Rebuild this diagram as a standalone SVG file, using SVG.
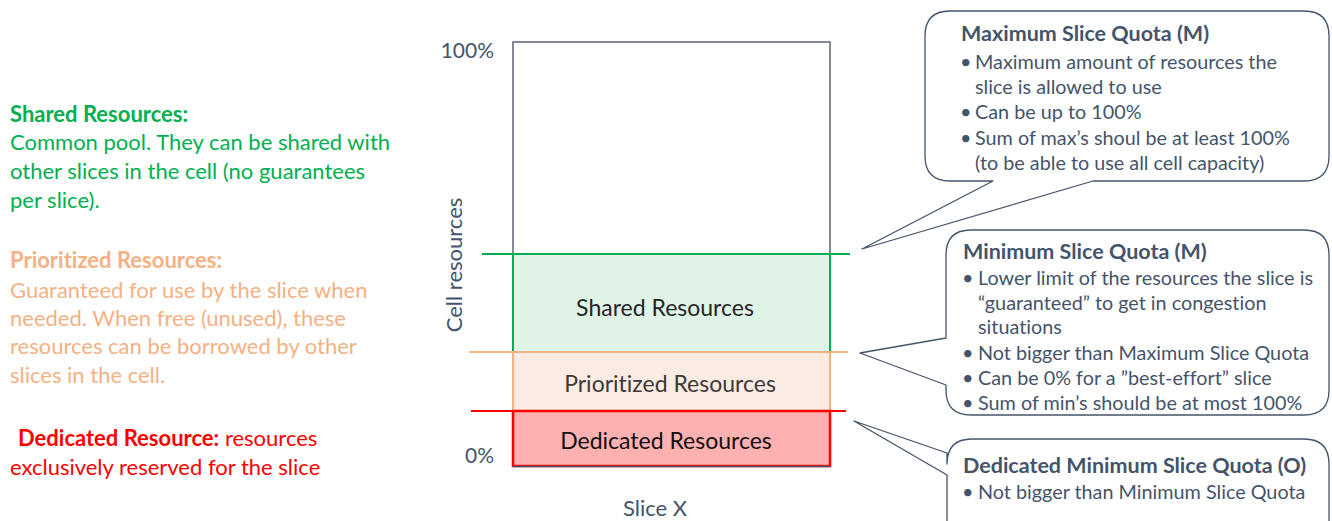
<svg xmlns="http://www.w3.org/2000/svg" width="1332" height="521" viewBox="0 0 1332 521">
<style>
text{font-family:Lato,"Open Sans","Noto Sans",sans-serif;font-variant-ligatures:none;}
.lg{font-size:22px;fill:#00b050;}
.lo{font-size:22px;fill:#f4b183;}
.lr{font-size:22px;fill:#ff0000;}
.b{font-weight:bold;}
.ax{font-size:21px;fill:#44546a;}
.in{font-size:23px;fill:#262626;text-anchor:middle;}
.ct{font-size:19.8px;fill:#44546a;}
.tt{font-size:21.5px;font-weight:bold;fill:#44546a;}
.cb{fill:#ffffff;stroke:#44546a;stroke-width:1.3;stroke-linejoin:round;}
</style>
<g id="legend">
<text class="lg b" x="10" y="122">Shared Resources:</text>
<text class="lg" x="10" y="150">Common pool. They can be shared with</text>
<text class="lg" x="10" y="179">other slices in the cell (no guarantees</text>
<text class="lg" x="10" y="208">per slice).</text>
<text class="lo b" x="10" y="268">Prioritized Resources:</text>
<text class="lo" x="10" y="298">Guaranteed for use by the slice when</text>
<text class="lo" x="10" y="326">needed. When free (unused), these</text>
<text class="lo" x="10" y="354">resources can be borrowed by other</text>
<text class="lo" x="10" y="383">slices in the cell.</text>
<text class="lr" x="18" y="446"><tspan class="b">Dedicated Resource:</tspan> resources</text>
<text class="lr" x="10" y="475">exclusively reserved for the slice</text>
</g>
<g id="chart">
<rect x="513" y="42" width="317" height="424" fill="#ffffff" stroke="#5a6478" stroke-width="1.5"/>
<rect id="shared" x="513" y="254" width="317" height="98" fill="#dff3e7" stroke="#00b050" stroke-width="2"/>
<rect id="prioritized" x="513" y="352" width="317" height="59" fill="#fbece3" stroke="#f4b183" stroke-width="2"/>
<rect id="dedicated" x="513" y="411" width="317" height="55" fill="#ffb0b0" stroke="#ff0000" stroke-width="2.5"/>
<line x1="513" y1="466.5" x2="830" y2="466.5" stroke="#44546a" stroke-width="1.5"/>
<line x1="482" y1="254" x2="850" y2="254" stroke="#00b050" stroke-width="2"/>
<line x1="469" y1="352" x2="848" y2="352" stroke="#f4b183" stroke-width="2"/>
<line x1="471" y1="411" x2="846" y2="411" stroke="#ff0000" stroke-width="2"/>
<text class="in" x="665" y="316">Shared Resources</text>
<text class="in" x="670" y="392" style="fill:#403838">Prioritized Resources</text>
<text class="in" x="666" y="449" style="fill:#111">Dedicated Resources</text>
<text class="ax" x="494" y="58" text-anchor="end">100%</text>
<text class="ax" x="494" y="463" text-anchor="end">0%</text>
<text class="ax" transform="translate(462,265) rotate(-90)" text-anchor="middle" style="font-size:22px">Cell resources</text>
<text class="ax" x="655" y="516" text-anchor="middle" style="font-size:22px">Slice X</text>
</g>
<g id="callout-max">
<path class="cb" d="M950,11 H1304 Q1329,11 1329,36 V156 Q1329,181 1304,181 H1093 L862,249 L993,181 H950 Q925,181 925,156 V36 Q925,11 950,11 Z"/>
<text class="tt" x="961" y="41">Maximum Slice Quota (M)</text>
<text class="ct" x="960" y="69">•</text><text class="ct" x="975" y="69">Maximum amount of resources the</text>
<text class="ct" x="975" y="94">slice is allowed to use</text>
<text class="ct" x="960" y="119">•</text><text class="ct" x="975" y="119">Can be up to 100%</text>
<text class="ct" x="960" y="145">•</text><text class="ct" x="975" y="145">Sum of max’s shoul be at least 100%</text>
<text class="ct" x="975" y="170">(to be able to use all cell capacity)</text>
</g>
<g id="callout-min">
<path class="cb" d="M971,230 H1304 Q1329,230 1329,255 V390 Q1329,415 1304,415 H971 Q946,415 946,390 V385 L860,353 L946,338 V255 Q946,230 971,230 Z"/>
<text class="tt" x="963" y="259">Minimum Slice Quota (M)</text>
<text class="ct" x="962" y="285">•</text><text class="ct" x="978" y="285">Lower limit of the resources the slice is</text>
<text class="ct" x="978" y="310">“guaranteed” to get in congestion</text>
<text class="ct" x="978" y="334">situations</text>
<text class="ct" x="962" y="360">•</text><text class="ct" x="978" y="360">Not bigger than Maximum Slice Quota</text>
<text class="ct" x="962" y="385">•</text><text class="ct" x="978" y="385">Can be 0% for a ”best-effort” slice</text>
<text class="ct" x="962" y="410">•</text><text class="ct" x="978" y="410">Sum of min’s should be at most 100%</text>
</g>
<g id="callout-dedicated">
<path class="cb" d="M972,439 H1304 Q1329,439 1329,464 V530 H947 V475 L854,421 L947,453 V464 Q947,439 972,439 Z"/>
<text class="tt" x="963" y="473">Dedicated Minimum Slice Quota (O)</text>
<text class="ct" x="962" y="499">•</text><text class="ct" x="978" y="499">Not bigger than Minimum Slice Quota</text>
</g>
</svg>
